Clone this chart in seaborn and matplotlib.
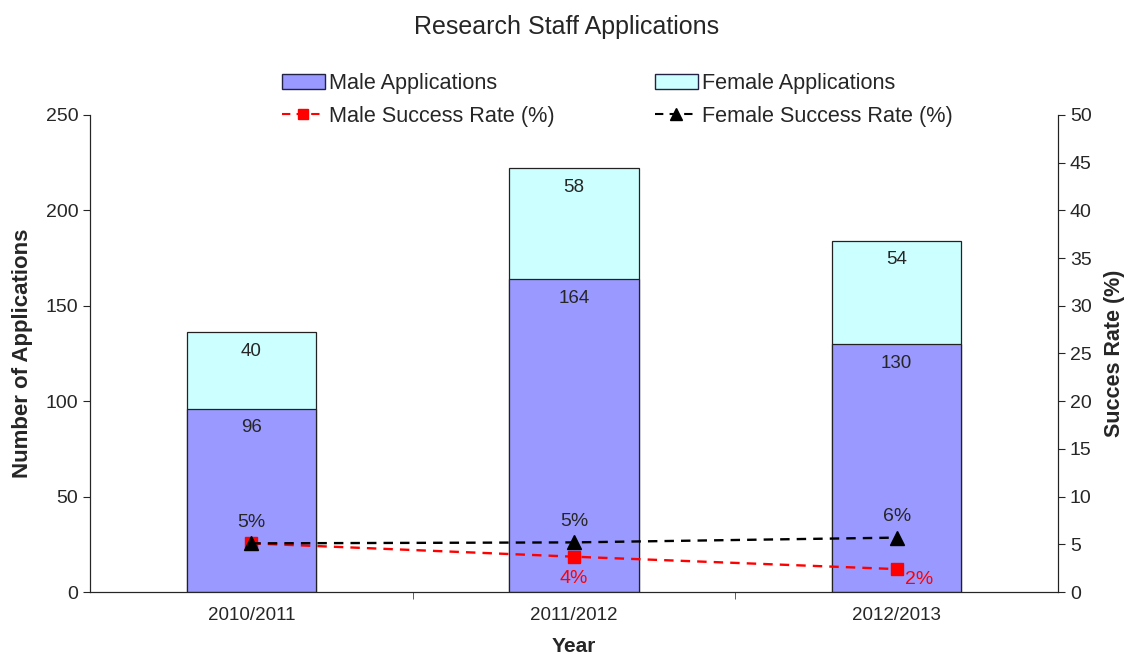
import numpy as np
import pandas as pd
import seaborn as sns
import matplotlib.pyplot as plt
from matplotlib.lines import Line2D
from matplotlib.patches import Patch

#chart data
years = ['2010/2011', '2011/2012', '2012/2013']
male_apps = [96, 164, 130]
female_apps = [40, 58, 54]
male_rate = [5.1, 3.7, 2.4]
female_rate = [5.1, 5.2, 5.7]
male_rate_labels = ['', '4%', '2%']
female_rate_labels = ['5%', '5%', '6%']

MALE_COLOR = '#9999FF'
FEMALE_COLOR = '#CCFFFF'

sns.set_style('white')
plt.rcParams['font.family'] = ['Liberation Sans', 'DejaVu Sans']

df = pd.DataFrame({'year': years, 'male': male_apps, 'female': female_apps})
df['total'] = df['male'] + df['female']

fig, ax = plt.subplots(figsize=(11.33, 6.54), dpi=100)
fig.subplots_adjust(left=0.0794, right=0.9338, top=0.8242, bottom=0.0948)

#stacked bars: total first, male on top of it
sns.barplot(data=df, x='year', y='total', color=FEMALE_COLOR, width=0.4,
            edgecolor='#222222', linewidth=0.9, saturation=1, ax=ax)
sns.barplot(data=df, x='year', y='male', color=MALE_COLOR, width=0.4,
            edgecolor='#222222', linewidth=0.9, saturation=1, ax=ax)

for i in range(len(years)):
    ax.text(i, male_apps[i] - 10, str(male_apps[i]), ha='center', va='center', fontsize=13.5)
    ax.text(i, df['total'][i] - 10, str(female_apps[i]), ha='center', va='center', fontsize=13.5)

ax.set_xlim(-0.5, 2.5)
ax.set_ylim(0, 250)
ax.set_yticks(range(0, 251, 50))
ax.set_xticks([0.5, 1.5], minor=True)
ax.tick_params(axis='x', which='major', length=0, labelsize=13.5, pad=11)
ax.tick_params(axis='x', which='minor', length=5, direction='out', color='#444444', bottom=True)
ax.tick_params(axis='y', length=5, direction='out', labelsize=14, left=True)
ax.set_xlabel('Year', fontsize=15, fontweight='bold', labelpad=9)
ax.set_ylabel('Number of Applications', fontsize=16, fontweight='bold', labelpad=9)
ax.spines['top'].set_visible(False)
for s in ['left', 'bottom']:
    ax.spines[s].set_color('#222222')

#success rates on the secondary axis
ax2 = ax.twinx()
x = np.arange(len(years))
ax2.plot(x, male_rate, color='red', linestyle=(0, (4, 3)), linewidth=1.7,
         marker='s', markersize=8, zorder=3)
ax2.plot(x, female_rate, color='black', linestyle=(0, (4, 3)), linewidth=1.7,
         marker='^', markersize=10, zorder=4)
for i in range(len(years)):
    ax2.text(x[i], female_rate[i] + 2.2, female_rate_labels[i], ha='center', va='center', fontsize=14)
offsets = [(0, -2.3), (0, -2.3), (0.07, -1.1)]
for i in range(len(years)):
    if male_rate_labels[i]:
        ax2.text(x[i] + offsets[i][0], male_rate[i] + offsets[i][1], male_rate_labels[i],
                 ha='center', va='center', fontsize=14, color='red')
ax2.set_ylim(0, 50)
ax2.set_yticks(range(0, 51, 5))
ax2.tick_params(axis='y', length=5, direction='out', labelsize=14, right=True)
ax2.set_ylabel('Succes Rate (%)', fontsize=15.5, fontweight='bold', labelpad=9)
ax2.spines['top'].set_visible(False)
ax2.spines['right'].set_color('#222222')
ax2.set_xlim(-0.5, 2.5)

fig.suptitle('Research Staff Applications', fontsize=18, y=0.977)

handles = [
    Patch(facecolor=MALE_COLOR, edgecolor='#222244'),
    Line2D([], [], color='red', linestyle=(0, (4, 3)), marker='s', markersize=7),
    Patch(facecolor=FEMALE_COLOR, edgecolor='#222244'),
    Line2D([], [], color='black', linestyle=(0, (4, 3)), marker='^', markersize=8),
]
labels = ['Male Applications', 'Male Success Rate (%)',
          'Female Applications', 'Female Success Rate (%)']
fig.legend(handles, labels, ncol=2, loc='upper center', bbox_to_anchor=(0.545, 0.918),
           frameon=False, fontsize=15.6, columnspacing=4.6, handlelength=2.0,
           handletextpad=0.2, labelspacing=0.55)

plt.savefig('out.png', dpi=100)
